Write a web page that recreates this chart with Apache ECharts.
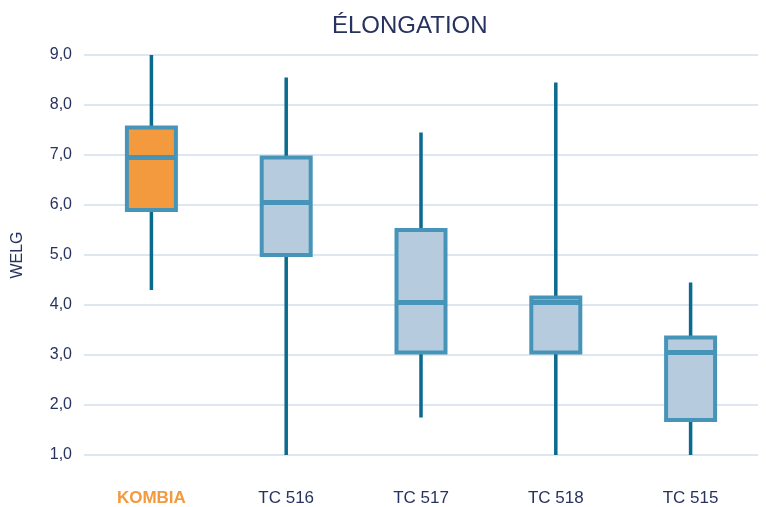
<!DOCTYPE html>
<html>
<head>
<meta charset="utf-8">
<script src="https://cdn.jsdelivr.net/npm/echarts@6/dist/echarts.min.js"></script>
<style>
  html, body { margin: 0; padding: 0; background: #fff; }
  #main { width: 766px; height: 507px; }
</style>
</head>
<body>
<div id="main"></div>
<script>
// categories
var categories = ['KOMBIA', 'TC 516', 'TC 517', 'TC 518', 'TC 515'];
// five-number summaries
var mins    = [4.3, 1.0, 1.75, 1.0, 1.0];
var q1s     = [5.9, 5.0, 3.05, 3.05, 1.7];
var medians = [6.95, 6.05, 4.05, 4.05, 3.05];
var q3s     = [7.55, 6.95, 5.5, 4.15, 3.35];
var maxs    = [9.0, 8.55, 7.45, 8.45, 4.45];

var navy = '#27335e';
var orange = '#f39a3e';
var boxBlue = '#4794b9';

// whiskers: full range, zero-width box hidden under the real box
var whiskerData = categories.map(function (c, i) {
    return [mins[i], q1s[i], medians[i], q3s[i], maxs[i]];
});
// boxes: whiskers collapsed onto the box edges
var boxData = categories.map(function (c, i) {
    var item = { value: [q1s[i], q1s[i], medians[i], q3s[i], q3s[i]] };
    if (i === 0) item.itemStyle = { color: orange };
    return item;
});
// thick median bar drawn on top
var medianData = categories.map(function (c, i) {
    var m = medians[i];
    return [m, m, m, m, m];
});

var hiddenAxis = { type: 'category', data: categories, show: false };

var chart = echarts.init(document.getElementById('main'));

var option = {
    animation: false,
    textStyle: { fontFamily: 'Liberation Sans, Arial, sans-serif' },
    title: {
        text: 'ÉLONGATION',
        left: 327,
        top: 9,
        textStyle: { color: navy, fontSize: 24, fontWeight: 'normal' }
    },
    grid: { left: 84, right: 8, top: 55, bottom: 52 },
    xAxis: [
        {
            type: 'category',
            data: categories,
            axisLine: { show: false },
            axisTick: { show: false },
            splitLine: { show: false },
            axisLabel: {
                margin: 35,
                fontSize: 17,
                color: navy,
                formatter: function (v, i) {
                    return i === 0 ? '{k|' + v + '}' : v;
                },
                rich: {
                    k: { color: orange, fontWeight: 'bold', fontSize: 17 }
                }
            }
        },
        hiddenAxis,
        hiddenAxis
    ],
    yAxis: {
        type: 'value',
        min: 1,
        max: 9,
        interval: 1,
        name: 'WELG',
        nameLocation: 'middle',
        nameGap: 58,
        nameTextStyle: { color: navy, fontSize: 16 },
        axisLine: { show: false },
        axisTick: { show: false },
        axisLabel: {
            margin: 12,
            fontSize: 16,
            color: navy,
            formatter: function (v) { return v.toFixed(1).replace('.', ','); }
        },
        splitLine: { lineStyle: { color: '#dde7f1', width: 2 } }
    },
    series: [
        {
            name: 'whisker',
            type: 'boxplot',
            xAxisIndex: 0,
            boxWidth: [0, 0],
            z: 2,
            itemStyle: { color: 'transparent', borderColor: '#0b6a8e', borderWidth: 3.5, borderCap: 'butt' },
            data: whiskerData
        },
        {
            name: 'box',
            type: 'boxplot',
            xAxisIndex: 1,
            boxWidth: [49, 49],
            z: 3,
            itemStyle: { color: '#b7cbdf', borderColor: boxBlue, borderWidth: 4 },
            data: boxData
        },
        {
            name: 'median',
            type: 'boxplot',
            xAxisIndex: 2,
            boxWidth: [47, 47],
            z: 4,
            itemStyle: { color: boxBlue, borderColor: boxBlue, borderWidth: 5, borderCap: 'butt' },
            data: medianData
        }
    ]
};

chart.setOption(option);
</script>
</body>
</html>
